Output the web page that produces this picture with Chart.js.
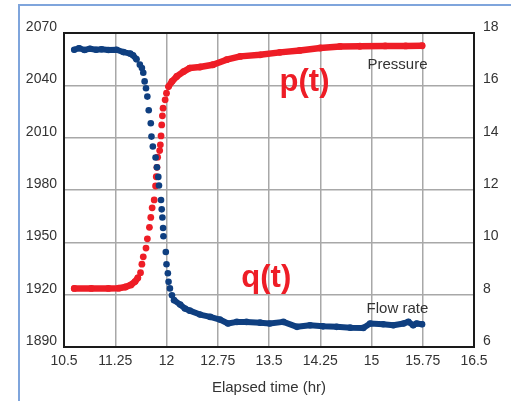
<!DOCTYPE html>
<html>
<head>
<meta charset="utf-8">
<script src="https://cdn.jsdelivr.net/npm/chart.js@4.4.1/dist/chart.umd.min.js"></script>
<style>
  html, body { margin: 0; padding: 0; background: #fff; overflow: hidden; }
  #wrap { position: relative; width: 511px; height: 401px; }
  #frame { position: absolute; left: 18px; top: 4px; width: 600px; height: 500px;
           border-left: 2px solid #7fa5dc; border-top: 2px solid #7fa5dc; }
  canvas { position: absolute; left: 0; top: 0; }
</style>
</head>
<body>
<div id="wrap">
  <div id="frame"></div>
  <canvas id="c" width="511" height="401"></canvas>
</div>
<script>
// Elapsed time (hr) and bottomhole pressure samples
const pressureTime = [10.65, 10.9, 11.15, 11.3, 11.4, 11.48, 11.54, 11.58, 11.62, 11.64, 11.66, 11.70,
  11.72, 11.75, 11.77, 11.79, 11.82, 11.84, 11.85, 11.86, 11.87, 11.90, 11.91, 11.92, 11.93, 11.94,
  11.95, 11.98, 12.00, 12.03, 12.08, 12.15, 12.25, 12.34, 12.49, 12.68, 12.88, 13.08, 13.37, 13.66,
  13.95, 14.25, 14.54, 14.83, 15.2, 15.5, 15.74];
const pressureValue = [1923.6, 1923.6, 1923.6, 1923.7, 1924.4, 1925.6, 1927.5, 1929.6, 1932.6, 1937.5,
  1941.7, 1946.7, 1952.0, 1958.6, 1964.3, 1969.8, 1974.3, 1982.3, 1987.6, 1993.0, 1998.8, 2002.6,
  2005.9, 2011.0, 2017.3, 2022.5, 2026.9, 2031.7, 2035.5, 2039.3, 2042.2, 2045.1, 2047.9, 2049.9,
  2050.5, 2051.8, 2054.7, 2056.6, 2057.5, 2058.9, 2060.0, 2061.4, 2062.3, 2062.4, 2062.6, 2062.6, 2062.7];

// Elapsed time (hr) and flow rate samples
const flowTime = [10.65, 10.72, 10.8, 10.88, 10.97, 11.05, 11.15, 11.27, 11.37, 11.47, 11.51, 11.56,
  11.61, 11.64, 11.66, 11.68, 11.70, 11.72, 11.74, 11.77, 11.78, 11.80, 11.84, 11.86, 11.88, 11.89,
  11.92, 11.93, 11.94, 11.95, 11.955, 11.99, 12.00, 12.02, 12.03, 12.05, 12.08, 12.11, 12.20, 12.27,
  12.34, 12.49, 12.64, 12.78, 12.90, 13.03, 13.17, 13.37, 13.51, 13.71, 13.91, 14.10, 14.29, 14.49,
  14.69, 14.88, 14.98, 15.17, 15.32, 15.47, 15.54, 15.61, 15.66, 15.74];
const flowValue = [17.36, 17.42, 17.35, 17.40, 17.36, 17.38, 17.35, 17.36, 17.27, 17.21, 17.15, 17.0,
  16.79, 16.66, 16.48, 16.15, 15.89, 15.57, 15.05, 14.55, 14.04, 13.66, 13.24, 12.87, 12.50, 12.17,
  11.62, 11.26, 10.95, 10.55, 10.23, 9.63, 9.16, 8.82, 8.49, 8.24, 7.98, 7.79, 7.62, 7.47,
  7.39, 7.24, 7.15, 7.05, 6.90, 6.96, 6.96, 6.93, 6.90, 6.96, 6.77, 6.83, 6.79, 6.77,
  6.74, 6.73, 6.90, 6.87, 6.83, 6.90, 6.96, 6.83, 6.90, 6.87];

// Axis tick labels
const timeTicks = ['10.5', '11.25', '12', '12.75', '13.5', '14.25', '15', '15.75', '16.5'];
const pressureTicks = ['1890', '1920', '1950', '1980', '2010', '2040', '2070'];
const flowTicks = ['6', '8', '10', '12', '14', '16', '18'];

const RED = '#ee1d26';
const BLUE = '#0f3f80';
const TEXT = '#333333';
const FONT = "'Liberation Sans Narrow', 'Liberation Sans', Arial, sans-serif";

const toPoints = (xs, ys) => xs.map((x, i) => ({ x, y: ys[i] }));

// Dense stretches read as a solid trace; steep stretches show the separate samples
const sampleGap = ctx =>
  Math.abs(ctx.p1.y - ctx.p0.y) > 1.5 * Math.abs(ctx.p1.x - ctx.p0.x) ? 'rgba(0,0,0,0)' : undefined;

const plotFrame = {
  id: 'plotFrame',
  beforeDatasetsDraw(chart) {
    const { ctx, chartArea: a } = chart;
    ctx.save();
    ctx.strokeStyle = '#1a1a1a';
    ctx.lineWidth = 2;
    ctx.strokeRect(a.left, a.top, a.right - a.left, a.bottom - a.top);
    ctx.restore();
  }
};

const notes = [
  { text: 'Pressure', x: 15.38, y: 2051.6, axis: 'y', font: '15px ' + FONT, color: TEXT },
  { text: 'Flow rate', x: 15.38, y: 7.46, axis: 'y1', font: '15px ' + FONT, color: TEXT },
  { text: 'p(t)', x: 14.02, y: 2041.5, axis: 'y', font: "bold 31px 'Liberation Sans', Arial, sans-serif", color: RED },
  { text: 'q(t)', x: 13.46, y: 8.62, axis: 'y1', font: "bold 31px 'Liberation Sans', Arial, sans-serif", color: RED }
];

const curveNotes = {
  id: 'curveNotes',
  afterDatasetsDraw(chart) {
    const { ctx, scales } = chart;
    ctx.save();
    ctx.textAlign = 'center';
    ctx.textBaseline = 'middle';
    notes.forEach(n => {
      ctx.font = n.font;
      ctx.fillStyle = n.color;
      ctx.fillText(n.text, scales.x.getPixelForValue(n.x), scales[n.axis].getPixelForValue(n.y));
    });
    ctx.restore();
  }
};

new Chart(document.getElementById('c'), {
  type: 'scatter',
  data: {
    datasets: [
      {
        label: 'Flow rate',
        data: toPoints(flowTime, flowValue),
        yAxisID: 'y1',
        showLine: true,
        borderColor: BLUE,
        backgroundColor: BLUE,
        borderWidth: 6,
        borderCapStyle: 'round',
        borderJoinStyle: 'round',
        pointRadius: 3.3,
        pointBorderWidth: 0,
        pointBackgroundColor: BLUE,
        segment: { borderColor: sampleGap },
        order: 0
      },
      {
        label: 'Pressure',
        data: toPoints(pressureTime, pressureValue),
        yAxisID: 'y',
        showLine: true,
        borderColor: RED,
        backgroundColor: RED,
        borderWidth: 6.5,
        borderCapStyle: 'round',
        borderJoinStyle: 'round',
        pointRadius: 3.4,
        pointBorderWidth: 0,
        pointBackgroundColor: RED,
        segment: { borderColor: sampleGap },
        order: 1
      }
    ]
  },
  options: {
    responsive: false,
    animation: false,
    devicePixelRatio: 1,
    layout: { padding: { left: 0, right: 0, top: 33, bottom: 0 } },
    plugins: { legend: { display: false }, tooltip: { enabled: false } },
    scales: {
      x: {
        type: 'linear',
        min: 10.5,
        max: 16.5,
        afterBuildTicks: s => { s.ticks = timeTicks.map(v => ({ value: parseFloat(v) })); },
        ticks: {
          callback: (v, i) => timeTicks[i],
          color: TEXT,
          font: { family: FONT, size: 14 },
          padding: 6,
          maxRotation: 0,
          autoSkip: false
        },
        grid: { color: '#a8a8a8', lineWidth: 1.5, drawTicks: false },
        border: { display: false },
        title: {
          display: true,
          text: 'Elapsed time (hr)',
          color: TEXT,
          font: { family: FONT, size: 15 },
          padding: { top: 0, bottom: 4 }
        },
        afterFit: s => { s.height = 54; }
      },
      y: {
        position: 'left',
        min: 1890,
        max: 2070,
        afterBuildTicks: s => { s.ticks = pressureTicks.map(v => ({ value: parseFloat(v) })); },
        ticks: {
          callback: (v, i) => pressureTicks[i],
          color: TEXT,
          font: { family: FONT, size: 14 },
          padding: 7,
          labelOffset: -6
        },
        grid: { color: '#a8a8a8', lineWidth: 1.5, drawTicks: false },
        border: { display: false },
        afterFit: s => { s.width = 64; }
      },
      y1: {
        position: 'right',
        min: 6,
        max: 18,
        afterBuildTicks: s => { s.ticks = flowTicks.map(v => ({ value: parseFloat(v) })); },
        ticks: {
          callback: (v, i) => flowTicks[i],
          color: TEXT,
          font: { family: FONT, size: 14 },
          padding: 9,
          labelOffset: -6
        },
        grid: { display: false, drawTicks: false },
        border: { display: false },
        afterFit: s => { s.width = 37; }
      }
    }
  },
  plugins: [plotFrame, curveNotes]
});
</script>
</body>
</html>
